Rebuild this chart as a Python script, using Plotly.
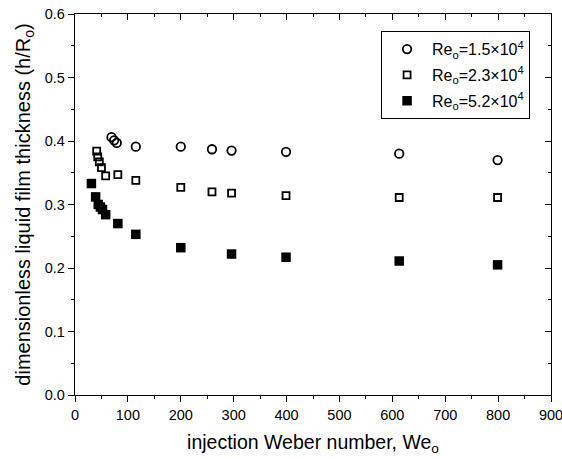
import plotly.graph_objects as go

# Re_o = 1.5x10^4 (open circles)
we_a = [69, 74, 79, 115, 200, 259, 296, 399, 613, 799]
h_a = [0.406, 0.401, 0.397, 0.391, 0.391, 0.387, 0.385, 0.383, 0.380, 0.370]

# Re_o = 2.3x10^4 (open squares)
we_b = [41, 43, 46, 50, 58, 81, 115, 200, 259, 296, 399, 613, 799]
h_b = [0.384, 0.375, 0.367, 0.358, 0.345, 0.347, 0.338, 0.327, 0.320, 0.318, 0.314, 0.311, 0.311]

# Re_o = 5.2x10^4 (filled squares)
we_c = [31, 39, 44, 48, 52, 58, 81, 115, 200, 296, 399, 613, 799]
h_c = [0.333, 0.312, 0.300, 0.296, 0.292, 0.284, 0.270, 0.253, 0.232, 0.222, 0.217, 0.211, 0.205]

names = ["Re<sub>o</sub>=1.5×10<sup>4</sup>",
         "Re<sub>o</sub>=2.3×10<sup>4</sup>",
         "Re<sub>o</sub>=5.2×10<sup>4</sup>"]

x_ticks = list(range(0, 1000, 100))
y_ticks = [0.0, 0.1, 0.2, 0.3, 0.4, 0.5, 0.6]

FONT = "Liberation Sans, Arial, sans-serif"
LW = 1.3

fig = go.Figure()
fig.add_trace(go.Scatter(x=we_a, y=h_a, mode="markers", name=names[0], legendgroup="a",
                         marker=dict(symbol="circle-open", size=8.5, color="black",
                                     line=dict(width=1.8, color="black"))))
fig.add_trace(go.Scatter(x=we_b, y=h_b, mode="markers", name=names[1], legendgroup="b",
                         marker=dict(symbol="square-open", size=7, color="black",
                                     line=dict(width=1.8, color="black"))))
fig.add_trace(go.Scatter(x=we_c, y=h_c, mode="markers", name=names[2], legendgroup="c",
                         marker=dict(symbol="square", size=9.5, color="black",
                                     line=dict(width=0, color="black"))))

# transparent copies on the mirrored tick axes so those axes render
fig.add_trace(go.Scatter(x=we_c, y=h_c, xaxis="x2", yaxis="y", mode="markers",
                         marker=dict(opacity=0), showlegend=False, hoverinfo="skip"))
fig.add_trace(go.Scatter(x=we_c, y=h_c, xaxis="x", yaxis="y2", mode="markers",
                         marker=dict(opacity=0), showlegend=False, hoverinfo="skip"))

axis_common = dict(showgrid=False, zeroline=False, linecolor="black",
                   linewidth=LW, tickcolor="black", tickwidth=LW)

fig.update_layout(
    width=562, height=459,
    margin=dict(l=75, r=11, t=14, b=64),
    paper_bgcolor="white", plot_bgcolor="white",
    font=dict(family=FONT, color="black", size=14),
    showlegend=True,
    legend=dict(x=0.643, y=0.955, xanchor="left", yanchor="top",
                bordercolor="black", borderwidth=1, bgcolor="white",
                font=dict(family=FONT, size=16, color="black"),
                itemwidth=40, tracegroupgap=2, traceorder="grouped"),
    xaxis=dict(range=[0, 900], tickvals=x_ticks, ticktext=[str(v) for v in x_ticks],
               ticks="outside", ticklen=6, showline=True, mirror=True,
               ticklabeloverflow="allow",
               minor=dict(dtick=50, ticks="outside", ticklen=3, tickcolor="black", tickwidth=LW),
               title=dict(text="injection Weber number, We<sub>o</sub>",
                          font=dict(size=19.5), standoff=13),
               automargin=False,
               tickfont=dict(size=14.5), **axis_common),
    yaxis=dict(range=[0, 0.6], tickvals=y_ticks, ticktext=[f"{v:.1f}" for v in y_ticks],
               ticks="outside", ticklen=6, showline=True, mirror=True,
               ticklabeloverflow="allow",
               minor=dict(dtick=0.05, ticks="outside", ticklen=3, tickcolor="black", tickwidth=LW),
               title=dict(text="dimensionless liquid film thickness (h/R<sub>o</sub>)",
                          font=dict(size=20), standoff=8),
               automargin=False,
               tickfont=dict(size=14.5), **axis_common),
    xaxis2=dict(range=[0, 900], overlaying="x", side="top", anchor="y",
                tickvals=x_ticks, showticklabels=False, ticks="inside", ticklen=6,
                showline=False,
                minor=dict(dtick=50, ticks="inside", ticklen=3, tickcolor="black", tickwidth=LW),
                **axis_common),
    yaxis2=dict(range=[0, 0.6], overlaying="y", side="right", anchor="x",
                tickvals=y_ticks, showticklabels=False, ticks="inside", ticklen=6,
                showline=False,
                minor=dict(dtick=0.05, ticks="inside", ticklen=3, tickcolor="black", tickwidth=LW),
                **axis_common),
)

# remove the browser's default 8px body margin so the figure fills the window
fig.write_html("out.html", config={"displayModeBar": False},
               post_script="document.body.style.margin='0';")
